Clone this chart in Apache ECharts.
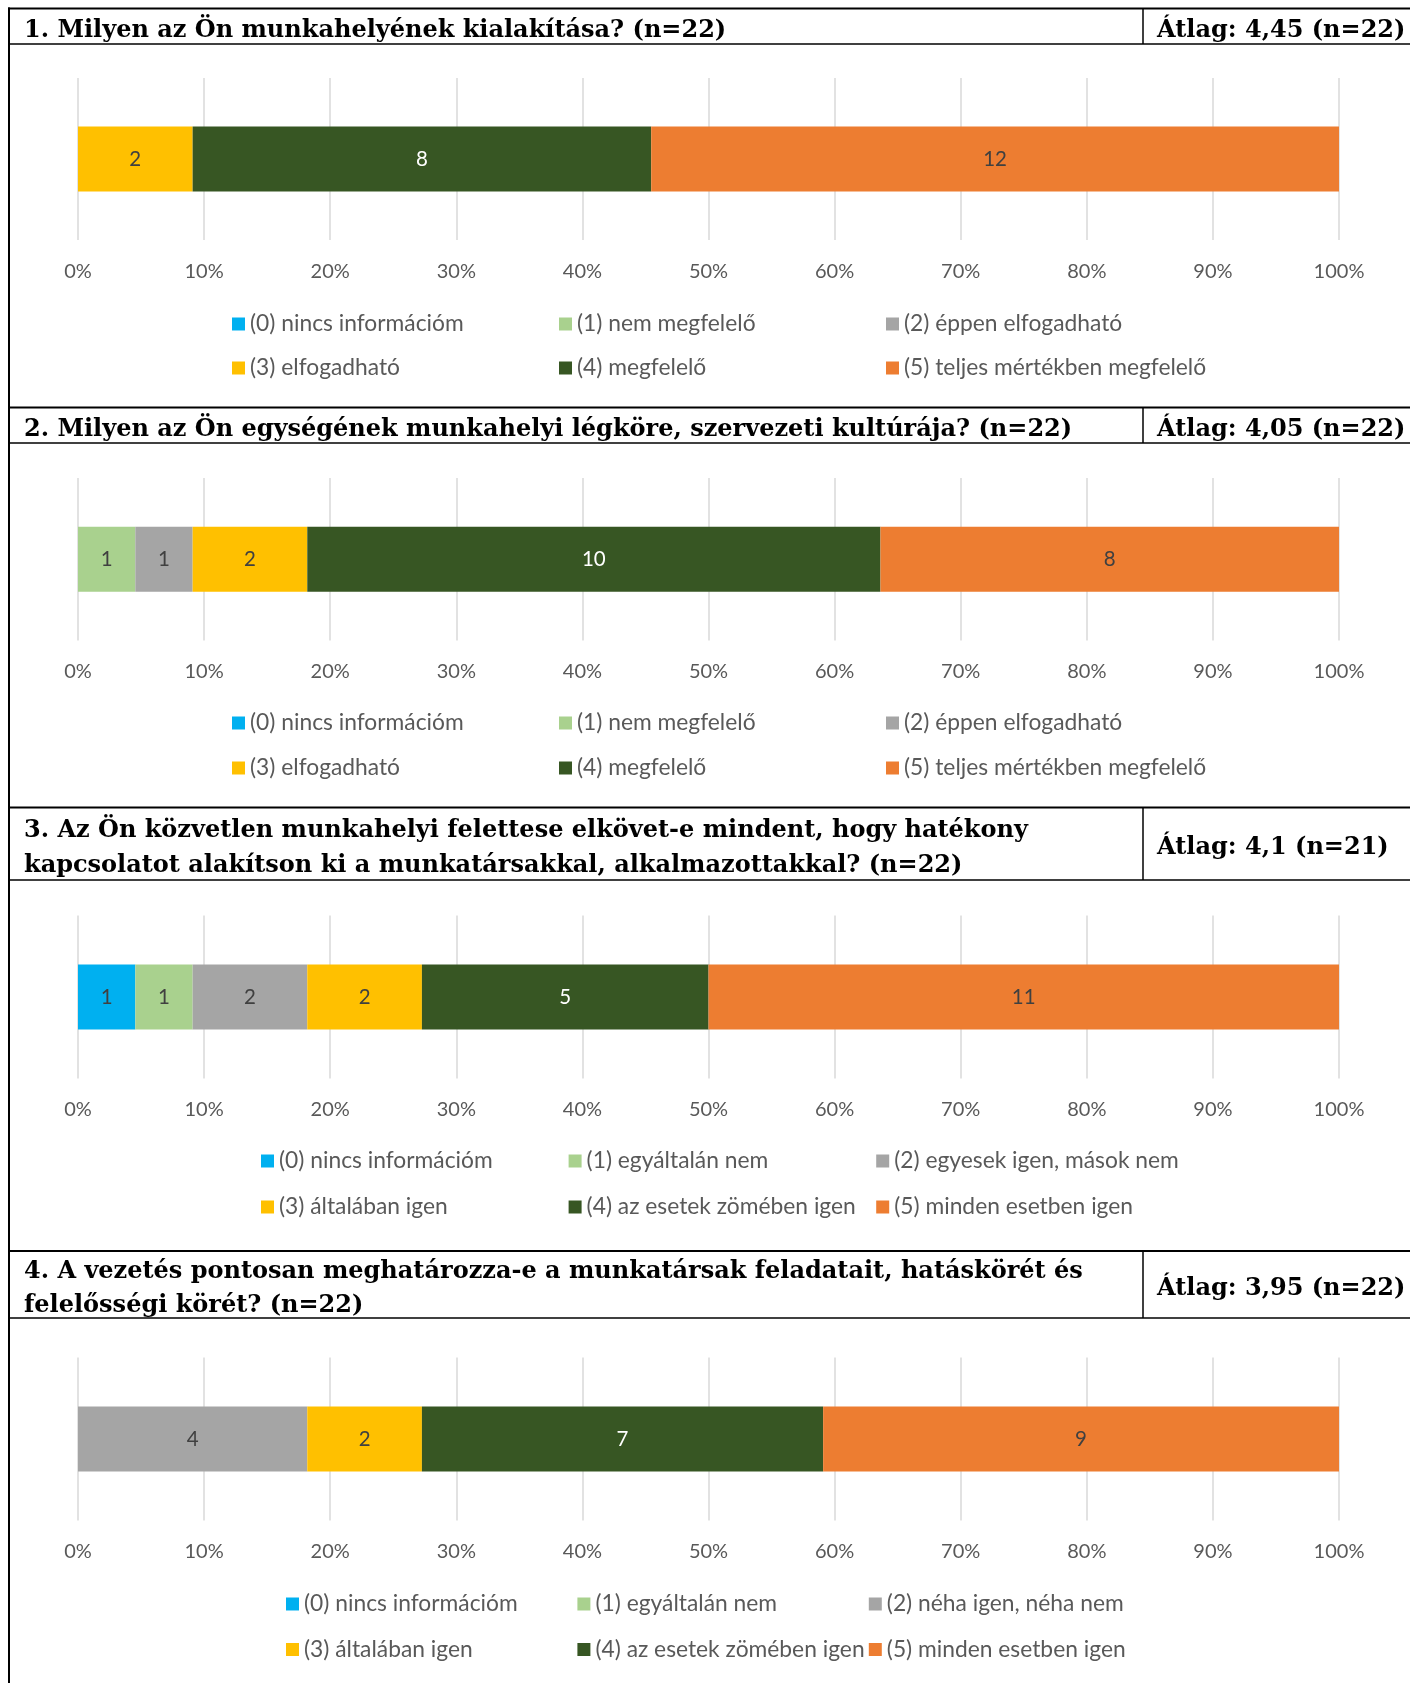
<!DOCTYPE html>
<html>
<head>
<meta charset="utf-8">
<script src="https://cdn.jsdelivr.net/npm/echarts@6/dist/echarts.min.js"></script>
<style>
html,body{margin:0;padding:0;background:#ffffff;}
#chart{width:1410px;height:1683px;}
</style>
</head>
<body>
<div id="chart"></div>
<script>
// ---------------- data ----------------
const namesA = ['(0) nincs információm', '(1) nem megfelelő', '(2) éppen elfogadható', '(3) elfogadható', '(4) megfelelő', '(5) teljes mértékben megfelelő'];
const namesB = ['(0) nincs információm', '(1) egyáltalán nem', '(2) egyesek igen, mások nem', '(3) általában igen', '(4) az esetek zömében igen', '(5) minden esetben igen'];
const namesC = ['(0) nincs információm', '(1) egyáltalán nem', '(2) néha igen, néha nem', '(3) általában igen', '(4) az esetek zömében igen', '(5) minden esetben igen'];

const counts1 = [0, 0, 0, 2, 8, 12];
const counts2 = [0, 1, 1, 2, 10, 8];
const counts3 = [1, 1, 2, 2, 5, 11];
const counts4 = [0, 0, 4, 2, 7, 9];

const titles = [
  '1. Milyen az Ön munkahelyének kialakítása? (n=22)',
  '2. Milyen az Ön egységének munkahelyi légköre, szervezeti kultúrája? (n=22)',
  '3. Az Ön közvetlen munkahelyi felettese elkövet-e mindent, hogy hatékony\nkapcsolatot alakítson ki a munkatársakkal, alkalmazottakkal? (n=22)',
  '4. A vezetés pontosan meghatározza-e a munkatársak feladatait, hatáskörét és\nfelelősségi körét? (n=22)'
];
const averages = ['Átlag: 4,45 (n=22)', 'Átlag: 4,05 (n=22)', 'Átlag: 4,1 (n=21)', 'Átlag: 3,95 (n=22)'];

const tickSuffix = '%';

// ---------------- styles / layout ----------------
const colors = ['#00B0F0', '#A9D18E', '#A5A5A5', '#FFC000', '#375623', '#ED7D31'];
const labelColors = ['#404040', '#404040', '#404040', '#404040', '#FFFFFF', '#404040'];

const sections = [
  {names: namesA, counts: counts1, headTop: 8.5, headBottom: 44, gridTop: 78, gridBottom: 240, leg: [324, 368], legX: 232, colW: 327},
  {names: namesA, counts: counts2, headTop: 407.5, headBottom: 443, gridTop: 478, gridBottom: 640.5, leg: [723, 768], legX: 232, colW: 327},
  {names: namesB, counts: counts3, headTop: 807.5, headBottom: 880, gridTop: 915.5, gridBottom: 1078.5, leg: [1161, 1207], legX: 261, colW: 307.6},
  {names: namesC, counts: counts4, headTop: 1251, headBottom: 1318, gridTop: 1357.5, gridBottom: 1520.5, leg: [1604, 1649.5], legX: 286, colW: 291.4}
];

const plotLeft = 78, plotWidth = 1261;
const dividerX = 1143;
const font = 'Lato';
const headFont = 'bold 24px "DejaVu Serif"';

const grids = [], xAxes = [], yAxes = [], series = [], legends = [], graphics = [];

// left border
graphics.push({type: 'line', shape: {x1: 9, y1: 7.5, x2: 9, y2: 1683}, style: {stroke: '#000', lineWidth: 2}});

sections.forEach((s, i) => {
  const total = s.counts.reduce((a, b) => a + b, 0);
  grids.push({left: plotLeft, width: plotWidth, top: s.gridTop, height: s.gridBottom - s.gridTop, containLabel: false});
  xAxes.push({
    type: 'value', gridIndex: i, min: 0, max: 100, interval: 10,
    axisLine: {show: false}, axisTick: {show: false},
    splitLine: {show: true, lineStyle: {color: '#D9D9D9', width: 1.5}},
    axisLabel: {formatter: v => v + tickSuffix, color: '#595959', fontSize: 20, fontFamily: font, margin: 21.5}
  });
  yAxes.push({type: 'category', gridIndex: i, data: [''], show: false});
  s.names.forEach((n, k) => {
    const c = s.counts[k];
    series.push({
      type: 'bar', name: n, stack: 'q' + i, xAxisIndex: i, yAxisIndex: i,
      barWidth: 65, data: [c / total * 100],
      itemStyle: {color: colors[k]},
      label: {show: c > 0, position: 'inside', formatter: String(c), color: labelColors[k], fontSize: 20.5, fontFamily: font},
      emphasis: {disabled: true}
    });
  });
  [0, 1].forEach(r => {
    legends.push({
      left: s.legX, top: s.leg[r] - 11.5, padding: 0, itemGap: 0, itemWidth: 13, itemHeight: 13,
      icon: 'rect', selectedMode: false, orient: 'horizontal',
      textStyle: {width: s.colW - 18, fontSize: 22.8, lineHeight: 23, fontFamily: font, color: '#595959'},
      data: s.names.slice(r * 3, r * 3 + 3)
    });
  });
  // header lines
  graphics.push({type: 'line', shape: {x1: 8, y1: s.headTop, x2: 1410, y2: s.headTop}, style: {stroke: '#000', lineWidth: 2}});
  graphics.push({type: 'line', shape: {x1: 8, y1: s.headBottom, x2: 1410, y2: s.headBottom}, style: {stroke: '#000', lineWidth: 1.5}});
  graphics.push({type: 'line', shape: {x1: dividerX, y1: s.headTop, x2: dividerX, y2: s.headBottom}, style: {stroke: '#000', lineWidth: 1.5}});
  const mid = (s.headTop + s.headBottom) / 2 + 4.5;
  graphics.push({type: 'text', x: 24, y: mid, style: {text: titles[i], font: headFont, fill: '#000', verticalAlign: 'middle', lineHeight: 34.5}});
  graphics.push({type: 'text', x: 1157, y: mid, style: {text: averages[i], font: headFont, fill: '#000', verticalAlign: 'middle'}});
});

const chart = echarts.init(document.getElementById('chart'), null, {renderer: 'canvas'});
chart.setOption({
  animation: false,
  backgroundColor: '#ffffff',
  grid: grids,
  xAxis: xAxes,
  yAxis: yAxes,
  legend: legends,
  series: series,
  graphic: graphics
});
</script>
</body>
</html>
